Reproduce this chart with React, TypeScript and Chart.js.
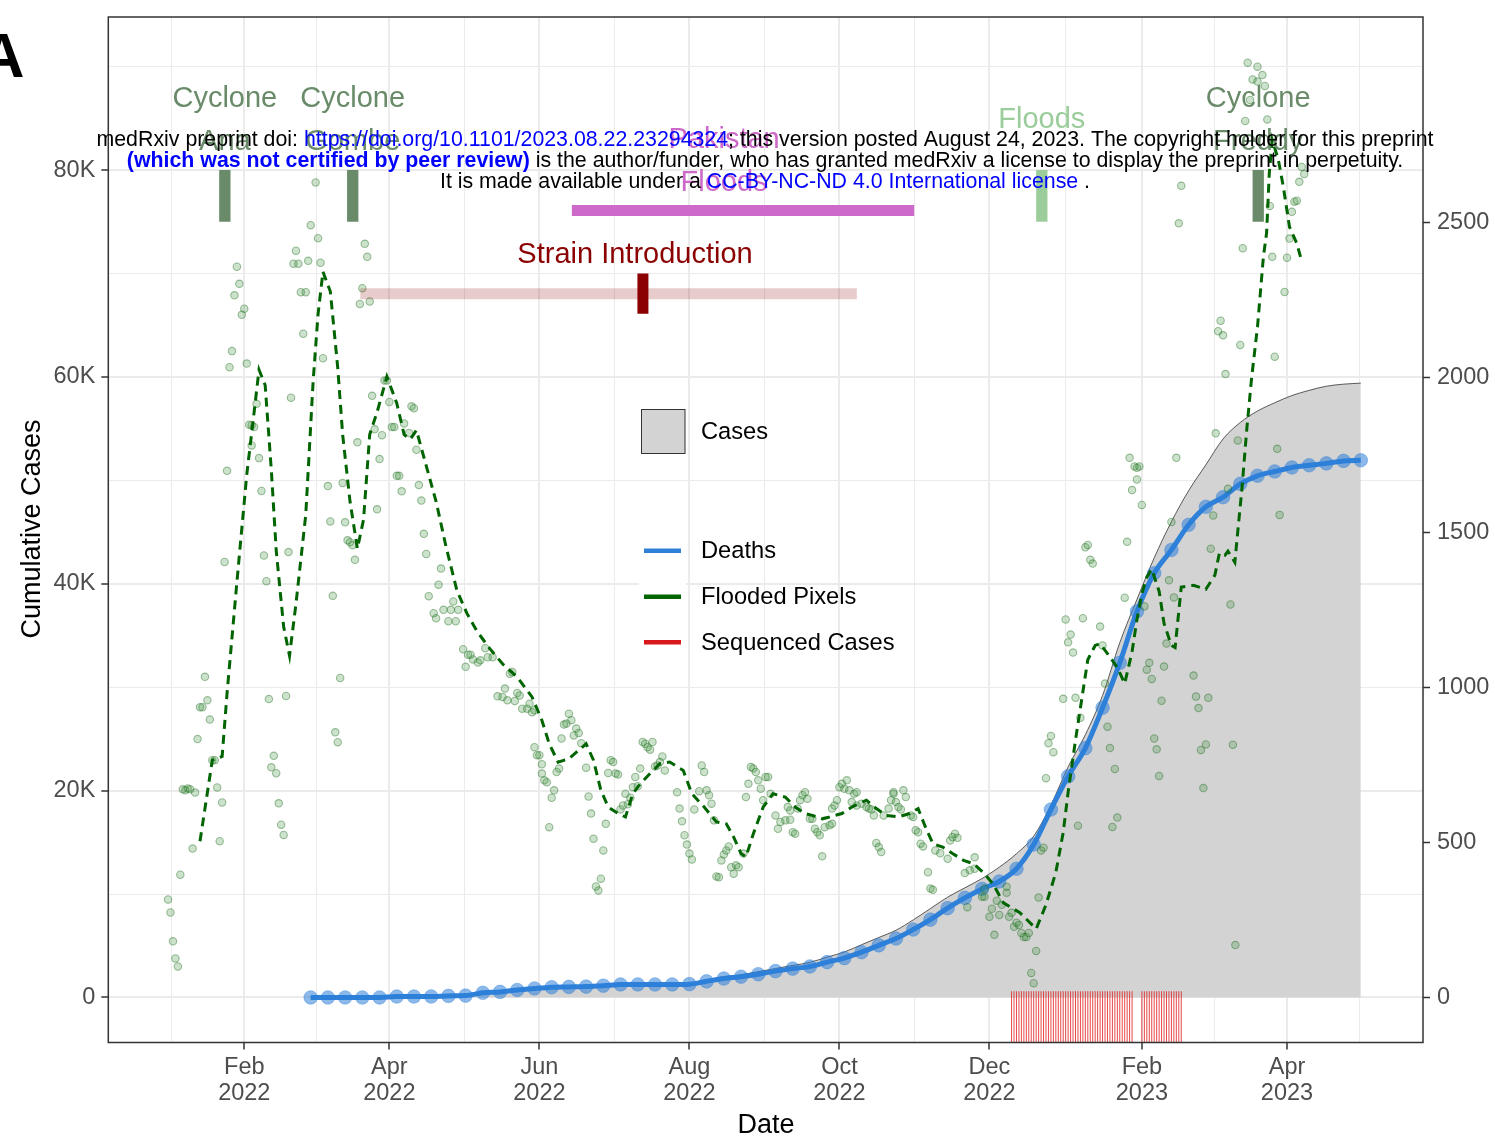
import React, { useEffect, useRef } from 'react';
import { Chart, registerables } from 'chart.js';
Chart.register(...registerables);

const FONT = '"Liberation Sans", Arial, Helvetica, sans-serif';

// x values are days since 2022-01-01
const xTickDays = [31, 90, 151, 212, 273, 334, 396, 455];
const xTickLabels = [['Feb', '2022'], ['Apr', '2022'], ['Jun', '2022'], ['Aug', '2022'], ['Oct', '2022'], ['Dec', '2022'], ['Feb', '2023'], ['Apr', '2023']];
const xMinorDays = [1.5, 60.5, 120.5, 181.5, 242.5, 303.5, 365, 425.5, 484.5];
const leftTicks = [0, 20000, 40000, 60000, 80000];
const leftTickLabels = ['0', '20K', '40K', '60K', '80K'];
const leftMinor = [10000, 30000, 50000, 70000, 90000];
const rightTicks = [0, 500, 1000, 1500, 2000, 2500];
const rightTickLabels = ['0', '500', '1000', '1500', '2000', '2500'];

// weekly cumulative series
const weekDays = [58, 65, 72, 79, 86, 93, 100, 107, 114, 121, 128, 135, 142, 149, 156, 163, 170, 177, 184, 191, 198, 205, 212, 219, 226, 233, 240, 247, 254, 261, 268, 275, 282, 289, 296, 303, 310, 317, 324, 331, 338, 345, 352, 359, 366, 373, 380, 387, 394, 401, 408, 415, 422, 429, 436, 443, 450, 457, 464, 471, 478, 485];
const cumulativeCases = [0, 0, 0, 0, 0, 100, 100, 100, 200, 200, 500, 600, 750, 900, 1000, 1050, 1100, 1150, 1250, 1300, 1300, 1350, 1400, 1700, 2000, 2200, 2500, 2800, 3100, 3400, 3900, 4400, 5100, 5800, 6500, 7500, 8600, 9700, 10600, 11500, 12600, 13900, 15600, 18600, 22300, 25400, 29200, 34300, 38500, 42500, 46000, 49000, 51500, 54000, 55600, 56700, 57500, 58200, 58700, 59100, 59300, 59400];
const cumulativeDeaths = [0, 0, 0, 0, 0, 3, 3, 3, 5, 6, 15, 18, 24, 29, 33, 34, 35, 38, 42, 42, 42, 42, 43, 52, 61, 67, 75, 85, 93, 100, 114, 127, 146, 168, 190, 219, 251, 288, 321, 350, 374, 415, 493, 606, 713, 804, 934, 1079, 1245, 1368, 1443, 1524, 1582, 1613, 1656, 1682, 1696, 1709, 1716, 1722, 1730, 1732];

// daily flooded pixels [day, pixels]
const floodedPixels = [
  [0, 316], [1, 274], [2, 181], [3, 126], [4, 100], [5, 396], [6, 671], [7, 668], [8, 674], [9, 671], [10, 480], [11, 661], [12, 833], [13, 936], [14, 936], [15, 1034], [16, 958], [17, 896], [18, 765], [19, 765], [20, 677], [21, 504], [22, 629], [23, 1404], [24, 1698], [25, 2032], [26, 2084], [27, 2264], [28, 2356], [29, 2301], [30, 2201], [31, 2221], [32, 2044], [33, 1847], [34, 1845], [34, 1780], [35, 1839], [36, 1914], [37, 1739], [38, 1633], [39, 1425], [40, 1342], [41, 962], [42, 742], [43, 779], [44, 723], [45, 626], [46, 557], [47, 524], [48, 972], [49, 1436], [50, 1934], [51, 2366], [52, 2408], [53, 2366], [54, 2274], [55, 2140], [56, 2274], [57, 2375], [58, 2490], [60, 2628], [61, 2448], [62, 2369], [63, 2061], [65, 1649], [66, 1535], [67, 1295], [68, 855], [69, 823], [70, 1030], [71, 1659], [72, 1532], [73, 1474], [74, 1468], [75, 1458], [76, 1411], [77, 1790], [78, 2236], [79, 2287], [80, 2430], [81, 2388], [82, 2244], [83, 1940], [84, 1832], [85, 1574], [86, 1736], [87, 1813], [88, 1989], [89, 1989], [90, 1920], [91, 1839], [92, 1839], [93, 1682], [94, 1682], [95, 1632], [96, 1851], [98, 1820], [99, 1906], [100, 1900], [101, 1766], [102, 1652], [103, 1602], [104, 1495], [105, 1430], [106, 1294], [108, 1239], [109, 1223], [110, 1331], [111, 1383], [112, 1250], [114, 1213], [115, 1250], [116, 1277], [117, 1213], [118, 1250], [120, 1123], [121, 1066], [122, 1105], [123, 1105], [124, 1090], [126, 1080], [127, 1087], [129, 1126], [130, 1097], [132, 1097],
  [134, 971], [136, 969], [137, 996], [138, 958], [139, 1044], [140, 1049], [141, 956], [142, 982], [143, 974], [144, 931], [146, 931], [147, 947], [148, 920], [149, 926], [149, 807], [150, 781], [151, 781], [152, 752], [152, 722], [153, 700], [154, 694], [155, 549], [156, 644], [157, 668], [158, 727], [159, 738], [160, 835], [161, 880], [162, 883], [163, 915], [164, 894], [165, 845], [166, 867], [167, 853], [168, 820], [170, 741], [171, 648], [172, 593], [173, 512], [174, 358], [175, 345], [176, 383], [177, 474], [178, 560], [179, 724], [180, 765], [181, 759], [182, 722], [183, 719], [184, 606], [185, 619], [186, 657], [187, 623], [188, 644], [189, 678], [190, 711], [191, 681], [192, 738], [193, 824], [194, 818], [195, 807], [196, 799], [197, 824], [198, 745], [199, 748], [200, 759], [201, 777], [202, 732], [207, 662], [208, 609], [209, 568], [210, 523], [211, 493], [212, 464], [213, 445], [214, 606], [216, 665], [217, 748], [218, 727], [219, 668], [220, 652], [221, 625], [222, 571], [223, 390], [224, 388], [225, 442], [226, 461], [227, 474], [228, 487], [229, 420], [230, 399], [231, 426], [232, 420], [234, 464],
  [235, 646], [236, 689], [237, 743], [238, 738], [239, 727], [240, 700], [241, 673], [242, 636], [243, 711], [244, 711], [245, 657], [247, 587], [248, 544], [249, 566], [251, 571], [252, 614], [253, 603], [253, 573], [254, 533], [255, 528], [256, 609], [257, 636], [258, 652], [259, 662], [260, 641], [261, 576], [262, 576], [263, 544], [264, 533], [265, 523], [266, 455], [267, 549], [269, 555], [270, 560], [270, 609], [271, 619], [272, 636], [273, 678], [274, 689], [275, 673], [276, 700], [277, 668], [278, 630], [279, 657], [280, 662], [280, 619], [282, 625], [284, 614], [285, 609], [286, 606], [287, 587], [288, 498], [289, 485], [290, 469], [291, 587], [293, 609], [294, 636], [295, 662], [295, 657], [296, 630], [297, 614], [298, 606], [299, 668], [300, 646], [302, 587], [303, 582], [304, 539], [305, 533], [306, 496], [307, 487], [309, 404], [310, 351], [311, 347], [312, 474], [314, 465], [317, 447], [318, 506], [319, 517], [320, 528], [321, 515], [324, 401], [325, 291], [326, 410], [328, 452], [328, 415],
  [331, 325], [332, 351], [332, 325], [334, 260], [335, 286], [336, 202], [337, 312], [338, 266], [339, 299], [341, 338], [341, 357], [342, 260], [343, 273], [344, 228], [345, 241], [346, 234], [347, 208], [348, 195], [349, 195], [350, 208], [351, 79], [352, 46], [353, 150], [354, 322], [355, 474], [356, 483], [357, 707], [358, 820], [359, 843], [360, 791], [364, 963], [365, 1219], [366, 1145], [367, 1170], [368, 1112], [369, 966], [370, 554], [371, 902], [372, 1223], [373, 1452], [374, 1459], [375, 1411], [376, 1399], [379, 1196], [380, 1135], [381, 1012], [382, 873], [383, 804], [384, 550], [385, 737], [386, 580], [389, 1289], [390, 1469], [391, 1740], [392, 1636], [393, 1712], [394, 1708], [394, 1670], [395, 1712], [396, 1588], [397, 1261], [398, 1057], [399, 1079], [400, 1027], [401, 835], [402, 800], [403, 714], [404, 957], [405, 1067], [406, 1141], [407, 1345], [408, 1533], [409, 1290], [410, 1740], [411, 2496], [412, 2617],
  [417, 1038], [418, 970], [419, 933], [420, 798], [421, 675], [422, 816], [423, 966], [424, 1447], [425, 1554], [426, 1819], [427, 2148], [428, 2182], [429, 2135], [430, 2010], [431, 1640], [432, 1267], [433, 815], [434, 169], [435, 1796], [436, 2104], [437, 2416], [438, 2826], [439, 3014], [440, 2894], [441, 2960], [443, 3001], [443, 2953], [445, 2974], [446, 2939], [447, 2831], [448, 2552], [449, 2388], [450, 2066], [451, 1769], [452, 1556], [454, 2275], [455, 2385], [456, 2447], [457, 2533], [458, 2566], [459, 2569], [460, 2630], [461, 2678], [462, 2655],
];

// smoothed flooded pixels [day, pixels]
const floodedSmooth = [
  [13, 504], [18, 765], [22, 777], [24, 981], [28, 1339], [32, 1685], [35, 1887], [37, 2024], [39.5, 1974], [42, 1700], [44, 1440], [47, 1196], [49.4, 1102], [52, 1268], [56, 1556], [59, 1987], [61, 2203], [63, 2340], [66, 2276], [69, 2031], [71, 1815], [74, 1599], [77, 1447], [79.5, 1541], [82, 1815], [85, 1887], [89, 2002], [93, 1916], [96, 1815], [98.5, 1800], [101, 1829], [105, 1714], [109, 1599], [113, 1455], [117.5, 1311], [121.5, 1239], [125.6, 1181], [131, 1123], [136, 1076], [142, 1033], [148, 969], [152, 894], [155, 818], [158.6, 759], [163, 770], [167, 797], [170, 818], [173, 765], [176, 668], [179, 614], [183, 593], [186, 582], [189, 657], [192, 689], [196, 722], [200, 754], [204, 759], [209.5, 732], [213, 657], [218, 614], [223, 566], [227, 560], [230, 517], [233, 464], [235, 453], [238, 528], [242, 614], [246, 657], [251, 646], [255, 614], [259, 593], [262, 587], [266, 576], [269, 582], [274, 593], [278, 614], [284, 636], [288, 609], [292, 587], [297, 582], [301.5, 593], [305, 609], [308, 549], [311, 496], [315, 485], [319, 464], [323.5, 442], [327.6, 431], [332, 399], [335.6, 364], [339.7, 305], [346.4, 273], [353, 221], [357, 299], [361, 403], [364, 532], [366, 662], [369, 830], [371.5, 960], [374, 1089], [377, 1135], [379, 1141], [382, 1109], [386, 1064], [389, 1012], [392, 1115], [394, 1219], [396, 1303], [398, 1355], [400, 1381], [403, 1310], [405, 1206], [408, 1135], [409.5, 1128], [411, 1245], [412, 1323], [417, 1329], [422, 1316], [425.7, 1362], [427.5, 1433], [429.8, 1426], [431, 1439], [433.8, 1403], [435, 1504], [436.6, 1634], [438.6, 1828], [440.6, 1997], [443, 2162], [445.4, 2388], [446.7, 2465], [447.8, 2658], [449, 2765], [451.5, 2700], [453.5, 2614], [456, 2485], [459, 2431], [460.5, 2388],
];

// sequenced case collection days
const sequencedDays = [343, 344, 345, 346, 347, 348, 349, 350, 351, 352, 353, 354, 355, 356, 357, 358, 359, 360, 361, 362, 363, 364, 365, 366, 367, 368, 369, 370, 371, 372, 373, 374, 375, 376, 377, 378, 379, 380, 381, 382, 383, 384, 385, 386, 387, 388, 389, 390, 391, 392, 396, 397, 398, 399, 400, 401, 402, 403, 404, 405, 406, 407, 408, 409, 410, 411, 412];

// events (vertical markers)
const eventLabels = [['Cyclone', 'Ana'], ['Cyclone', 'Gombe'], ['Floods'], ['Cyclone', 'Freddy']];
const eventDays = [23.1, 75.1, 355.3, 443.3];
const eventColors = ['#698B69', '#698B69', '#9BCD9B', '#698B69'];
const eventBarRange = [75000, 80000];
const eventLabelY = 84810;

// Pakistan floods period
const pakistanLabel = ['Pakistan', 'Floods'];
const pakistanLabelDay = 226.1;
const pakistanLabelY = 80810;
const pakistanRange = [164.2, 303.4];
const pakistanBarY = 76080;

// strain introduction
const strainLabel = 'Strain Introduction';
const strainLabelDay = 189.9;
const strainLabelY = 71780;
const strainRange = [78.2, 280.1];
const strainBarY = 68030;
const strainMarkDay = 193.1;
const strainMarkRange = [66100, 70000];

const xMajorSet = new Set(xTickDays);
const leftMajorSet = new Set(leftTicks);

const extras = {
  id: 'extras',
  afterDatasetsDraw(chart: any) {
    const { ctx, chartArea: ca, scales } = chart;
    const xs = scales.x;
    const ys = scales.y;
    ctx.save();
    ctx.beginPath();
    ctx.rect(ca.left, ca.top, ca.right - ca.left, ca.bottom - ca.top);
    ctx.clip();
    // rug
    ctx.strokeStyle = 'rgba(226,26,28,0.8)';
    ctx.lineWidth = 1;
    const rugTop = ca.bottom - 0.05 * (ca.bottom - ca.top);
    sequencedDays.forEach((d) => {
      const px = xs.getPixelForValue(d);
      ctx.beginPath();
      ctx.moveTo(px, rugTop);
      ctx.lineTo(px, ca.bottom);
      ctx.stroke();
    });
    // strain bar
    ctx.lineCap = 'butt';
    ctx.lineWidth = 11;
    ctx.strokeStyle = 'rgba(139,0,0,0.2)';
    ctx.beginPath();
    ctx.moveTo(xs.getPixelForValue(strainRange[0]), ys.getPixelForValue(strainBarY));
    ctx.lineTo(xs.getPixelForValue(strainRange[1]), ys.getPixelForValue(strainBarY));
    ctx.stroke();
    ctx.strokeStyle = '#8B0000';
    ctx.beginPath();
    ctx.moveTo(xs.getPixelForValue(strainMarkDay), ys.getPixelForValue(strainMarkRange[0]));
    ctx.lineTo(xs.getPixelForValue(strainMarkDay), ys.getPixelForValue(strainMarkRange[1]));
    ctx.stroke();
    // pakistan bar
    ctx.strokeStyle = '#CD69C9';
    ctx.beginPath();
    ctx.moveTo(xs.getPixelForValue(pakistanRange[0]), ys.getPixelForValue(pakistanBarY));
    ctx.lineTo(xs.getPixelForValue(pakistanRange[1]), ys.getPixelForValue(pakistanBarY));
    ctx.stroke();
    // event bars
    eventDays.forEach((d, i) => {
      ctx.strokeStyle = eventColors[i];
      ctx.lineWidth = 11.3;
      ctx.beginPath();
      ctx.moveTo(xs.getPixelForValue(d), ys.getPixelForValue(eventBarRange[0]));
      ctx.lineTo(xs.getPixelForValue(d), ys.getPixelForValue(eventBarRange[1]));
      ctx.stroke();
    });
    // labels
    ctx.font = `29px ${FONT}`;
    ctx.textAlign = 'center';
    ctx.textBaseline = 'middle';
    const drawLines = (lines: string[], px: number, py: number, color: string) => {
      ctx.fillStyle = color;
      lines.forEach((t, i) => {
        ctx.fillText(t, px, py + (i - (lines.length - 1) / 2) * 42.5);
      });
    };
    eventLabels.forEach((lines, i) => {
      drawLines(lines, xs.getPixelForValue(eventDays[i]), ys.getPixelForValue(eventLabelY), eventColors[i]);
    });
    drawLines(pakistanLabel, xs.getPixelForValue(pakistanLabelDay), ys.getPixelForValue(pakistanLabelY), '#CD69C9');
    drawLines([strainLabel], xs.getPixelForValue(strainLabelDay), ys.getPixelForValue(strainLabelY), '#8B0000');
    ctx.restore();
  },
  afterDraw(chart: any) {
    const { ctx, chartArea: ca } = chart;
    ctx.save();
    // panel border
    ctx.strokeStyle = '#333333';
    ctx.lineWidth = 1.5;
    ctx.strokeRect(ca.left, ca.top, ca.right - ca.left, ca.bottom - ca.top);

    // legend
    ctx.fillStyle = '#ffffff';
    ctx.fillRect(639, 527, 47, 140);
    ctx.fillStyle = '#D3D3D3';
    ctx.fillRect(641, 409, 44, 45);
    ctx.strokeStyle = '#333333';
    ctx.lineWidth = 1;
    ctx.strokeRect(641.5, 409.5, 43.5, 44);
    const keyColors = ['#2E80D9', '#006400', '#D7191C'];
    const keyY = [550.7, 596.7, 642.3];
    ctx.lineWidth = 4.5;
    keyColors.forEach((c, i) => {
      ctx.strokeStyle = c;
      ctx.beginPath();
      ctx.moveTo(644, keyY[i]);
      ctx.lineTo(681, keyY[i]);
      ctx.stroke();
    });
    ctx.fillStyle = '#000000';
    ctx.font = `23.7px ${FONT}`;
    ctx.textAlign = 'left';
    ctx.textBaseline = 'middle';
    ctx.fillText('Cases', 701, 432);
    ctx.fillText('Deaths', 701, 551);
    ctx.fillText('Flooded Pixels', 701, 597);
    ctx.fillText('Sequenced Cases', 701, 643);

    // axis titles
    ctx.font = `27px ${FONT}`;
    ctx.textAlign = 'center';
    ctx.textBaseline = 'alphabetic';
    ctx.fillText('Date', 766, 1133);
    ctx.save();
    ctx.translate(40, 529);
    ctx.rotate(-Math.PI / 2);
    ctx.fillText('Cumulative Cases', 0, 0);
    ctx.restore();

    // panel tag
    ctx.font = `bold 63px ${FONT}`;
    ctx.textAlign = 'left';
    ctx.fillText('A', -21, 77);

    // medRxiv watermark
    const lines: [string, string, boolean][][] = [
      [['medRxiv preprint doi: ', '#000000', false], ['https://doi.org/10.1101/2023.08.22.23294324', '#0000FF', false], ['; this version posted August 24, 2023. The copyright holder for this preprint', '#000000', false]],
      [['(which was not certified by peer review)', '#0000FF', true], [' is the author/funder, who has granted medRxiv a license to display the preprint in perpetuity.', '#000000', false]],
      [['It is made available under a ', '#000000', false], ['CC-BY-NC-ND 4.0 International license', '#0000FF', false], [' .', '#000000', false]],
    ];
    const baselines = [145.5, 166.5, 188];
    const measure = (segs: [string, string, boolean][], size: number) => {
      let w = 0;
      segs.forEach(([t, , b]) => {
        ctx.font = `${b ? 'bold ' : ''}${size}px ${FONT}`;
        w += ctx.measureText(t).width;
      });
      return w;
    };
    const size = 20 * 1338 / measure(lines[0], 20);
    ctx.textAlign = 'left';
    lines.forEach((segs, li) => {
      const w = measure(segs, size);
      let x = 765 - w / 2;
      segs.forEach(([t, c, b]) => {
        ctx.font = `${b ? 'bold ' : ''}${size}px ${FONT}`;
        ctx.fillStyle = c;
        ctx.fillText(t, x, baselines[li]);
        x += ctx.measureText(t).width;
      });
    });
    ctx.restore();
  },
};

const noPadV = (s: any) => { s.paddingTop = 0; s.paddingBottom = 0; };

export default function App() {
  const ref = useRef<HTMLCanvasElement | null>(null);
  useEffect(() => {
    if (!ref.current) return;
    const tickFont = { family: FONT, size: 23.5, lineHeight: 1.1 };
    const chart = new Chart(ref.current, {
      type: 'line',
      data: {
        datasets: [
          {
            type: 'line',
            label: 'Cases',
            data: weekDays.map((d, i) => ({ x: d, y: cumulativeCases[i] })),
            yAxisID: 'y',
            borderColor: '#333333',
            borderWidth: 0.8,
            backgroundColor: '#D3D3D3',
            fill: 'origin',
            pointRadius: 0,
            cubicInterpolationMode: 'monotone',
            order: 4,
          },
          {
            type: 'line',
            label: 'Deaths',
            data: weekDays.map((d, i) => ({ x: d, y: cumulativeDeaths[i] })),
            yAxisID: 'y1',
            borderColor: '#2E80D9',
            borderWidth: 5,
            pointRadius: 6.8,
            pointBackgroundColor: 'rgba(46,128,217,0.55)',
            pointBorderColor: 'rgba(46,128,217,0.4)',
            pointBorderWidth: 1,
            cubicInterpolationMode: 'monotone',
            order: 3,
          },
          {
            type: 'scatter',
            label: 'Flooded Pixels points',
            data: floodedPixels.map(([d, v]) => ({ x: d, y: v })),
            yAxisID: 'y1',
            pointRadius: 3.7,
            backgroundColor: 'rgba(50,140,50,0.25)',
            borderColor: 'rgba(30,110,30,0.42)',
            borderWidth: 1.1,
            showLine: false,
            order: 2,
          },
          {
            type: 'line',
            label: 'Flooded Pixels',
            data: floodedSmooth.map(([d, v]) => ({ x: d, y: v })),
            yAxisID: 'y1',
            borderColor: '#006400',
            borderWidth: 3,
            borderDash: [9, 6],
            pointRadius: 0,
            tension: 0,
            order: 1,
          },
        ],
      },
      options: {
        animation: false,
        responsive: false,
        maintainAspectRatio: false,
        devicePixelRatio: 1,
        layout: { padding: { top: 17, left: 0, right: 0, bottom: 0 } },
        plugins: { legend: { display: false }, tooltip: { enabled: false } },
        scales: {
          x: {
            type: 'linear',
            min: -24.29,
            max: 510.3,
            afterFit: (s: any) => { s.height = 96.5; s.paddingLeft = 0; s.paddingRight = 0; },
            afterBuildTicks: (s: any) => {
              s.ticks = [...xMinorDays, ...xTickDays].sort((a, b) => a - b).map((v) => ({ value: v }));
            },
            border: { display: false },
            grid: {
              color: '#EBEBEB',
              lineWidth: (c: any) => (c.tick && xMajorSet.has(c.tick.value) ? 2 : 1),
              tickColor: (c: any) => (c.tick && xMajorSet.has(c.tick.value) ? '#333333' : 'rgba(0,0,0,0)'),
              tickWidth: 1.5,
              tickLength: 7,
            },
            ticks: {
              autoSkip: false,
              maxRotation: 0,
              minRotation: 0,
              padding: 5,
              color: '#4D4D4D',
              font: tickFont,
              callback: (v: any) => {
                const i = xTickDays.indexOf(v);
                return i >= 0 ? xTickLabels[i] : '';
              },
            },
          },
          y: {
            type: 'linear',
            position: 'left',
            min: -4353,
            max: 94800,
            afterFit: (s: any) => { s.width = 108.3; noPadV(s); },
            afterBuildTicks: (s: any) => {
              s.ticks = [...leftTicks, ...leftMinor].sort((a, b) => a - b).map((v) => ({ value: v }));
            },
            border: { display: false },
            grid: {
              color: '#EBEBEB',
              lineWidth: (c: any) => (c.tick && leftMajorSet.has(c.tick.value) ? 2 : 1),
              tickColor: (c: any) => (c.tick && leftMajorSet.has(c.tick.value) ? '#333333' : 'rgba(0,0,0,0)'),
              tickWidth: 1.5,
              tickLength: 7,
            },
            ticks: {
              autoSkip: false,
              padding: 6,
              color: '#4D4D4D',
              font: tickFont,
              callback: (v: any) => {
                const i = leftTicks.indexOf(v);
                return i >= 0 ? leftTickLabels[i] : '';
              },
            },
          },
          y1: {
            type: 'linear',
            position: 'right',
            min: -145.2,
            max: 3161.3,
            afterFit: (s: any) => { s.width = 72; noPadV(s); },
            afterBuildTicks: (s: any) => {
              s.ticks = rightTicks.map((v) => ({ value: v }));
            },
            border: { display: false },
            grid: {
              drawOnChartArea: false,
              tickColor: '#333333',
              tickWidth: 1.5,
              tickLength: 7,
            },
            ticks: {
              autoSkip: false,
              padding: 7,
              color: '#4D4D4D',
              font: tickFont,
              callback: (v: any) => {
                const i = rightTicks.indexOf(v);
                return i >= 0 ? rightTickLabels[i] : '';
              },
            },
          },
        },
      } as any,
      plugins: [extras],
    });
    return () => chart.destroy();
  }, []);
  return (
    <div style={{ position: 'absolute', left: 0, top: 0, width: 1495, height: 1139, background: '#fff' }}>
      <canvas ref={ref} width={1495} height={1139} style={{ display: 'block', width: 1495, height: 1139 }} />
    </div>
  );
}
